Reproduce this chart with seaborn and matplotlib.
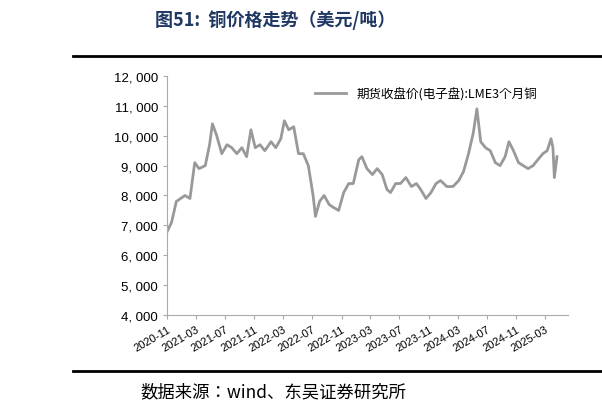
import matplotlib
matplotlib.use("Agg")
import matplotlib.pyplot as plt
import matplotlib.dates as mdates
import seaborn as sns
import pandas as pd

dates = ["2020-11-02","2020-11-20","2020-12-10","2020-12-28","2021-01-15","2021-02-05","2021-02-25","2021-03-15",
         "2021-04-10","2021-04-28","2021-05-10","2021-05-28","2021-06-18","2021-07-10","2021-07-30","2021-08-20",
         "2021-09-10","2021-09-30","2021-10-18","2021-11-05","2021-11-25","2021-12-15","2022-01-10","2022-01-30",
         "2022-02-20","2022-03-07","2022-03-25","2022-04-15","2022-05-05","2022-05-25","2022-06-15","2022-07-05",
         "2022-07-15","2022-08-01","2022-08-20","2022-09-10","2022-09-28","2022-10-20","2022-11-10","2022-12-01",
         "2022-12-20","2023-01-12","2023-01-25","2023-02-15","2023-03-10","2023-03-30","2023-04-20","2023-05-10",
         "2023-05-25","2023-06-15","2023-07-05","2023-07-28","2023-08-20","2023-09-10","2023-09-28","2023-10-20",
         "2023-11-10","2023-12-01","2023-12-20","2024-01-15","2024-02-10","2024-03-05","2024-03-25","2024-04-15",
         "2024-05-05","2024-05-20","2024-06-05","2024-06-25","2024-07-15","2024-08-05","2024-08-25","2024-09-15",
         "2024-10-01","2024-10-20","2024-11-10","2024-11-30","2024-12-20","2025-01-10","2025-01-30","2025-02-20",
         "2025-03-10","2025-03-26","2025-04-03","2025-04-09","2025-04-20"]
prices = [6800,7100,7800,7900,8000,7900,9100,8900,
          9000,9700,10400,10000,9400,9700,9600,9400,
          9600,9300,10200,9600,9700,9500,9800,9600,
          9900,10500,10200,10300,9400,9400,9000,8000,
          7300,7800,8000,7700,7600,7500,8100,8400,
          8400,9200,9300,8900,8700,8900,8700,8200,
          8100,8400,8400,8600,8300,8400,8200,7900,
          8100,8400,8500,8300,8300,8500,8800,9400,
          10100,10900,9800,9600,9500,9100,9000,9300,
          9800,9500,9100,9000,8900,9000,9200,9400,
          9500,9900,9600,8600,9300]
label = "期货收盘价(电子盘):LME3个月铜"

df = pd.DataFrame({"date": pd.to_datetime(dates), "price": prices, "s": label})

CJK = ["Noto Sans CJK SC", "Noto Sans CJK JP", "Noto Sans CJK TC", "DejaVu Sans"]
plt.rcParams["font.family"] = ["Liberation Sans"] + CJK
fig = plt.figure(figsize=(6.02, 4.14), dpi=100)
ax = fig.add_axes([167/602, 1-316/414, (568-167)/602, (316-77)/414])
sns.lineplot(data=df, x="date", y="price", hue="s", palette=["#999999"], linewidth=2, ax=ax)
ax.set_xlim(pd.Timestamp("2020-11-01"), pd.Timestamp("2025-06-05"))
ax.set_ylim(4000, 12000)
ax.set_yticks(range(4000, 12001, 1000))
ax.set_yticklabels([f"{v:,}".replace(",", ", ") for v in range(4000, 12001, 1000)], fontsize=9.5)
ax.xaxis.set_major_locator(mdates.MonthLocator(bymonth=[3, 7, 11]))
ax.xaxis.set_major_formatter(mdates.DateFormatter("%Y-%m"))
plt.setp(ax.get_xticklabels(), rotation=30, ha="right", fontsize=8, rotation_mode="anchor")
ax.set_xlabel(""); ax.set_ylabel("")
for s in ["top", "right"]:
    ax.spines[s].set_visible(False)
for s in ["left", "bottom"]:
    ax.spines[s].set_color("#aaaaaa")
ax.tick_params(colors="#aaaaaa", labelcolor="black", length=3)
leg = ax.legend(loc="upper right", frameon=False, prop={"family": CJK, "size": 9},
                handlelength=2.5, bbox_to_anchor=(0.95, 1.0))
fig.text(155/602, 1-20/414, "图51:  铜价格走势（美元/吨）", fontsize=13, fontweight="bold",
         color="#1f3864", family=CJK, va="center")
fig.add_artist(plt.Line2D([73/602, 1], [1-57/414]*2, color="black", lw=2))
fig.add_artist(plt.Line2D([73/602, 1], [1-372/414]*2, color="black", lw=2))
fig.text(140/602, 1-392/414, "数据来源：wind、东吴证券研究所", fontsize=12.5,
         family=CJK, va="center")
fig.savefig("out.png", dpi=100)
